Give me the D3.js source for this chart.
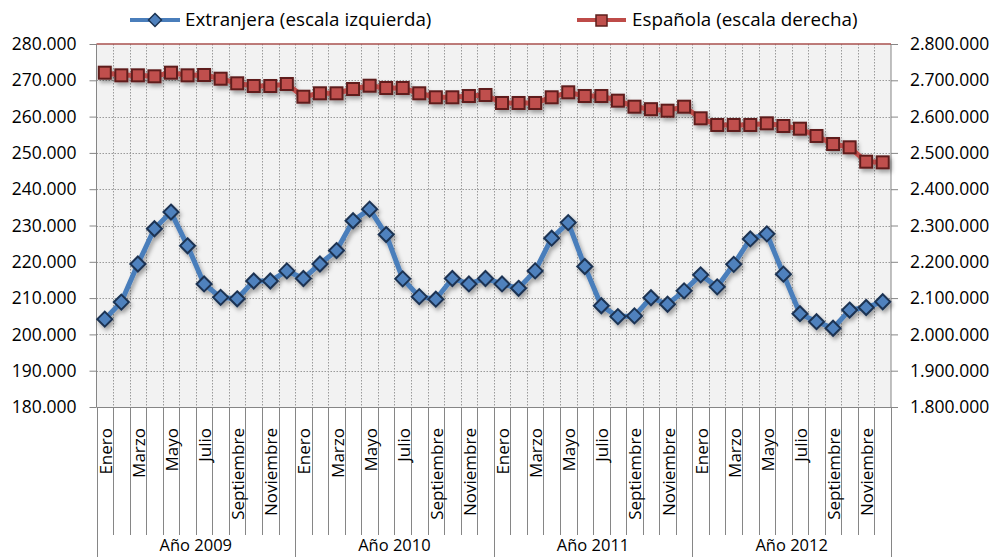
<!DOCTYPE html>
<html><head><meta charset="utf-8">
<script src="https://cdn.jsdelivr.net/npm/d3@7"></script>
<style>
html,body{margin:0;padding:0;background:#fff;}
svg{display:block;font-family:"Open Sans","Liberation Sans",sans-serif;}
</style></head>
<body>
<svg id="chart" width="996" height="557"></svg>
<script>
// ---- data ----
const months = ["Enero","Febrero","Marzo","Abril","Mayo","Junio","Julio","Agosto","Septiembre","Octubre","Noviembre","Diciembre"];
const years = ["Año 2009","Año 2010","Año 2011","Año 2012"];
const extranjera = [
  204200,208900,219400,229100,233700,224400,213900,210200,209800,214700,214700,217500,
  215400,219400,223100,231300,234500,227500,215300,210400,209700,215400,213900,215400,
  213900,212700,217500,226500,230800,218700,207900,204900,205100,210100,208300,212000,
  216400,213100,219300,226300,227700,216600,205700,203500,201700,206700,207400,209000];
const espanola = [
  2721000,2713700,2713700,2711000,2721000,2713700,2714600,2704400,2691700,2684300,2684300,2689800,
  2654800,2664200,2664200,2676000,2685100,2678800,2678800,2664200,2653200,2653200,2656700,2659500,
  2637500,2637500,2637500,2653200,2666900,2656700,2656700,2643900,2627300,2620500,2616300,2627300,
  2595300,2576900,2576900,2576900,2581500,2574100,2566700,2546600,2524500,2515400,2475800,2474000];
const leftTicks = [180000,190000,200000,210000,220000,230000,240000,250000,260000,270000,280000];
const rightTicks = [1800000,1900000,2000000,2100000,2200000,2300000,2400000,2500000,2600000,2700000,2800000];
const seriesNames = ["Extranjera (escala izquierda)","Española (escala derecha)"];

// ---- layout ----
const L = 96.5, R = 891, T = 44, B = 407;
const svg = d3.select("#chart");
const fmt = d3.formatLocale({decimal:",",thousands:".",grouping:[3],currency:["","€"]}).format(",d");

const cats = [];
years.forEach((y,yi)=>months.forEach((m,mi)=>cats.push({year:y,month:m,yi,mi})));
const x = d3.scaleBand().domain(d3.range(cats.length)).range([L,R]).padding(0);
const yL = d3.scaleLinear().domain([180000,280000]).range([B,T]);
const yR = d3.scaleLinear().domain([1800000,2800000]).range([B,T]);

const defs = svg.append("defs");
const f = defs.append("filter").attr("id","sh").attr("x","-20%").attr("y","-20%").attr("width","140%").attr("height","160%");
f.append("feDropShadow").attr("dx",2).attr("dy",3).attr("stdDeviation",2).attr("flood-color","#000").attr("flood-opacity",0.35);

// plot background
svg.append("rect").attr("x",L).attr("y",T).attr("width",R-L).attr("height",B-T).attr("fill","#f2f2f2");

// gridlines
const grid = svg.append("g").attr("stroke","#9a9a9a").attr("stroke-width",1).attr("stroke-dasharray","1.5,1.5");
leftTicks.slice(1,-1).forEach(t=>{
  grid.append("line").attr("x1",L).attr("x2",R).attr("y1",Math.round(yL(t))+0.5).attr("y2",Math.round(yL(t))+0.5);
});
d3.range(1,cats.length).forEach(i=>{
  const xx = Math.round(x(i))+0.5;
  grid.append("line").attr("x1",xx).attr("x2",xx).attr("y1",T).attr("y2",B);
});

// axes lines
const axC = "#868686";
svg.append("line").attr("x1",L).attr("x2",L).attr("y1",T).attr("y2",B).attr("stroke",axC);
svg.append("line").attr("x1",R).attr("x2",R).attr("y1",T).attr("y2",B).attr("stroke",axC);
svg.append("line").attr("x1",L).attr("x2",R).attr("y1",B+0.5).attr("y2",B+0.5).attr("stroke",axC);
svg.append("line").attr("x1",L).attr("x2",R).attr("y1",T).attr("y2",T).attr("stroke","#a8504e").attr("stroke-width",1.5);

// left axis
const gl = svg.append("g").attr("transform",`translate(${L},0)`)
  .call(d3.axisLeft(yL).tickValues(leftTicks).tickFormat(fmt).tickSize(7).tickPadding(13));
gl.select(".domain").remove();
gl.selectAll(".tick line").attr("stroke",axC);
gl.selectAll(".tick text").attr("font-family","Open Sans").attr("font-size",17.5).attr("fill","#000");

// right axis
const gr = svg.append("g").attr("transform",`translate(${R},0)`)
  .call(d3.axisRight(yR).tickValues(rightTicks).tickFormat(fmt).tickSize(7).tickPadding(12));
gr.select(".domain").remove();
gr.selectAll(".tick line").attr("stroke",axC);
gr.selectAll(".tick text").attr("font-family","Open Sans").attr("font-size",17.5).attr("fill","#000");

// category tick lines below axis
d3.range(0,cats.length+1).forEach(i=>{
  const xx = Math.round(i<cats.length ? x(i) : R)+0.5;
  const isYear = i%12===0;
  svg.append("line").attr("x1",xx).attr("x2",xx).attr("y1",B).attr("y2",isYear?557:535).attr("stroke",axC);
});

// month labels
svg.append("g").selectAll("text").data(cats.map((c,i)=>({...c,i})).filter(c=>c.mi%2===0)).join("text")
  .attr("transform",d=>`translate(${x(d.i)+x.bandwidth()/2+7},428) rotate(-90)`)
  .attr("text-anchor","end").attr("font-size",17).attr("fill","#000")
  .text(d=>d.month);

// year labels
svg.append("g").selectAll("text").data(years).join("text")
  .attr("x",(d,i)=>(x(i*12)+ (i===years.length-1?R:x((i+1)*12)))/2)
  .attr("y",551).attr("text-anchor","middle").attr("font-size",16.5).attr("fill","#000")
  .text(d=>d);

// series
const blueLine="#4a7ebb", blueFill="#4f81bd", blueStroke="#1b3352";
const redLine="#be4b48", redFill="#c0504d", redStroke="#5e1f1d";
const cx = i=>x(i)+x.bandwidth()/2;

const gE = svg.append("g").attr("filter","url(#sh)");
gE.append("path").datum(espanola).attr("fill","none").attr("stroke",redLine).attr("stroke-width",5).attr("stroke-linejoin","round")
  .attr("d",d3.line().x((d,i)=>cx(i)).y(d=>yR(d)));
gE.selectAll("rect").data(espanola).join("rect")
  .attr("x",(d,i)=>cx(i)-6).attr("y",d=>yR(d)-6).attr("width",12).attr("height",12)
  .attr("fill",redFill).attr("stroke",redStroke).attr("stroke-width",2);

const gX = svg.append("g").attr("filter","url(#sh)");
gX.append("path").datum(extranjera).attr("fill","none").attr("stroke",blueLine).attr("stroke-width",5).attr("stroke-linejoin","round")
  .attr("d",d3.line().x((d,i)=>cx(i)).y(d=>yL(d)));
gX.selectAll("path.m").data(extranjera).join("path").attr("class","m")
  .attr("d","M0,-7.5L7.5,0L0,7.5L-7.5,0Z")
  .attr("transform",(d,i)=>`translate(${cx(i)},${yL(d)})`)
  .attr("fill",blueFill).attr("stroke",blueStroke).attr("stroke-width",2);

// legend
const lg = svg.append("g");
lg.append("line").attr("x1",130).attr("x2",180).attr("y1",20).attr("y2",20).attr("stroke",blueLine).attr("stroke-width",4);
lg.append("path").attr("d","M0,-6.5L6.5,0L0,6.5L-6.5,0Z").attr("transform","translate(155,20)").attr("fill",blueFill).attr("stroke",blueStroke).attr("stroke-width",1.5);
lg.append("text").attr("x",185).attr("y",26).attr("font-size",18.8).attr("fill","#000").text(seriesNames[0]);
lg.append("line").attr("x1",577).attr("x2",626).attr("y1",20).attr("y2",20).attr("stroke",redLine).attr("stroke-width",4);
lg.append("rect").attr("x",596).attr("y",15).attr("width",11).attr("height",11).attr("fill",redFill).attr("stroke",redStroke).attr("stroke-width",1.5);
lg.append("text").attr("x",632).attr("y",26).attr("font-size",18.8).attr("fill","#000").text(seriesNames[1]);
</script>
</body></html>
